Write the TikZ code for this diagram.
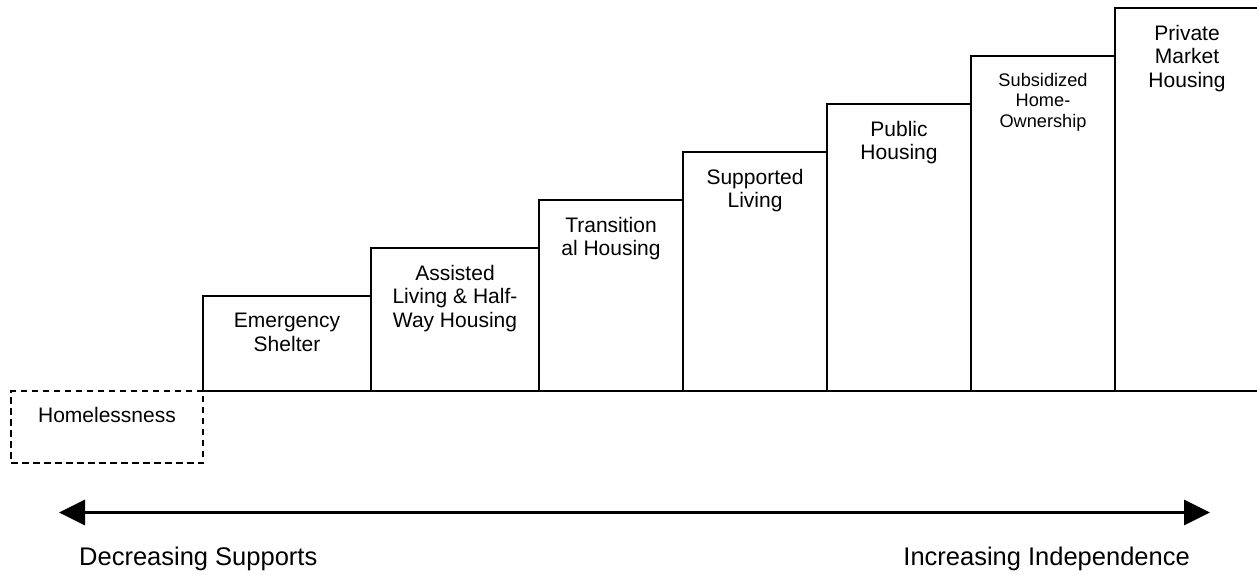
\documentclass[tikz,border=0pt]{standalone}
\usepackage{fontspec}
\setmainfont{Liberation Sans}
\usetikzlibrary{arrows.meta}
\begin{document}
\begin{tikzpicture}[x=1pt,y=-1pt,
  stepbox/.style={draw,line width=1.6pt,rectangle,inner sep=0pt,outer sep=0pt,anchor=north west},
  lbl/.style={anchor=north,align=center,inner sep=0pt,font=\fontsize{21}{23.5}\selectfont},
  smalllbl/.style={font=\fontsize{18.2}{20.5}\selectfont},
  biglbl/.style={inner sep=0pt,font=\fontsize{25.5}{30}\selectfont},
  dblarrow/.style={line width=3.5pt,{Triangle[length=26pt,width=25pt]}-{Triangle[length=26pt,width=25pt]}}]
\useasboundingbox (0,0) rectangle (1257,575);
\clip (0,0) rectangle (1257,575);
\node[stepbox,dash pattern=on 6.5pt off 4.5pt,minimum width=192,minimum height=72] (home) at (11,391) {};
\node[stepbox,minimum width=168,minimum height=95] (emerg) at (203,296) {};
\node[stepbox,minimum width=168,minimum height=143] (assist) at (371,248) {};
\node[stepbox,minimum width=144,minimum height=191] (trans) at (539,200) {};
\node[stepbox,minimum width=144,minimum height=239] (supp) at (683,152) {};
\node[stepbox,minimum width=144,minimum height=287] (pub) at (827,104) {};
\node[stepbox,minimum width=144,minimum height=335] (subs) at (971,56) {};
\node[stepbox,minimum width=144,minimum height=383] (priv) at (1115,8) {};
\node[lbl] (thome) at ([yshift=-16pt]home.north) {Homelessness};
\node[lbl] (temerg) at ([yshift=-17pt]emerg.north) {Emergency\\Shelter};
\node[lbl] (tassist) at ([yshift=-17pt]assist.north) {Assisted\\Living \& Half-\\Way Housing};
\node[lbl] (ttrans) at ([yshift=-17pt]trans.north) {Transition\\al Housing};
\node[lbl] (tsupp) at ([yshift=-17pt]supp.north) {Supported\\Living};
\node[lbl] (tpub) at ([yshift=-17pt]pub.north) {Public\\Housing};
\node[lbl,smalllbl] (tsubs) at ([yshift=-17pt]subs.north) {Subsidized\\Home-\\Ownership};
\node[lbl] (tpriv) at ([yshift=-17pt]priv.north) {Private\\Market\\Housing};
\coordinate (la) at (59,512.5);
\coordinate (ra) at (1210,512.5);
\draw[dblarrow] (la) -- (ra);
\node[biglbl,anchor=base west] (dec) at (79,565) {Decreasing Supports};
\node[biglbl,anchor=base east] (inc) at (1190,565) {Increasing Independence};
\end{tikzpicture}
\end{document}
